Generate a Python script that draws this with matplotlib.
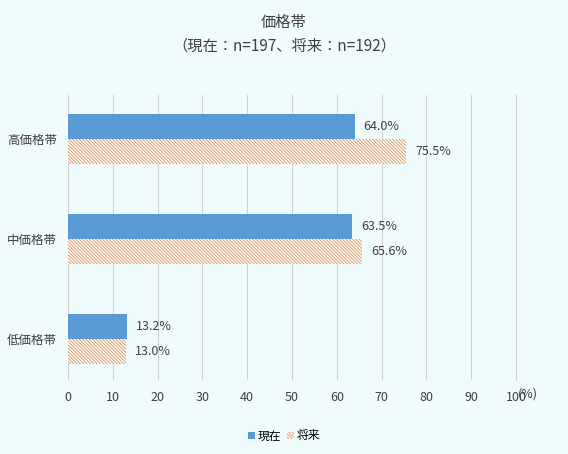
import matplotlib
matplotlib.use("Agg")
import matplotlib.pyplot as plt
import numpy as np

plt.rcParams['font.family'] = ['Noto Sans CJK JP', 'DejaVu Sans']
plt.rcParams['hatch.linewidth'] = 0.5

categories = ['高価格帯', '中価格帯', '低価格帯']
current = [64.0, 63.5, 13.2]
future = [75.5, 65.6, 13.0]
ticks = [0, 10, 20, 30, 40, 50, 60, 70, 80, 90, 100]

bg = '#f0fcfc'
fig = plt.figure(figsize=(5.68, 4.54), dpi=100, facecolor=bg)
ax = fig.add_axes([68/568, 1-380/454, 448/568, 285/454], facecolor=bg)

y = np.arange(len(categories))
h = 0.25
ax.barh(y - h/2, current, height=h, color='#5b9bd5', label='現在', zorder=3)
plt.rcParams['hatch.color'] = '#ed7d31'
ax.barh(y + h/2, future, height=h, color=bg, edgecolor='#ed7d31', linewidth=0,
        hatch='\\\\\\\\\\\\\\\\\\\\', label='将来', zorder=3)
for i in range(len(categories)):
    ax.text(current[i] + 2, y[i] - h/2, f'{current[i]:.1f}%', va='center', fontsize=9, color='#404040')
    ax.text(future[i] + 2, y[i] + h/2, f'{future[i]:.1f}%', va='center', fontsize=9, color='#404040')

ax.set_xlim(0, 100)
ax.set_ylim(2.41, -0.44)
ax.set_yticks(y)
ax.set_yticklabels(categories, fontsize=9, color='#404040')
ax.set_xticks(ticks)
ax.set_xticklabels([str(t) for t in ticks], fontsize=9, color='#404040')
ax.text(1.005, -8/285, '(%)', transform=ax.transAxes, ha='left', va='top', fontsize=9, color='#404040')
ax.grid(axis='x', color='#d0d0d0', linewidth=0.8, zorder=0)
ax.axvline(100, color='#d0d0d0', linewidth=0.8, zorder=0, clip_on=False)
for s in ax.spines.values():
    s.set_visible(False)
ax.tick_params(length=0, pad=8)

fig.text(0.5, 1-22/454, '価格帯', ha='center', va='center', fontsize=11, color='#404040')
fig.text(0.5, 1-46/454, '（現在：n=197、将来：n=192）', ha='center', va='center', fontsize=11, color='#404040')

fig.legend(loc='center', bbox_to_anchor=(0.5, 1-436/454), ncol=2, frameon=False,
           fontsize=8.5, handlelength=0.6, handleheight=0.6, columnspacing=0.5, handletextpad=0.2)

fig.savefig('out.png', dpi=100, facecolor=bg)
